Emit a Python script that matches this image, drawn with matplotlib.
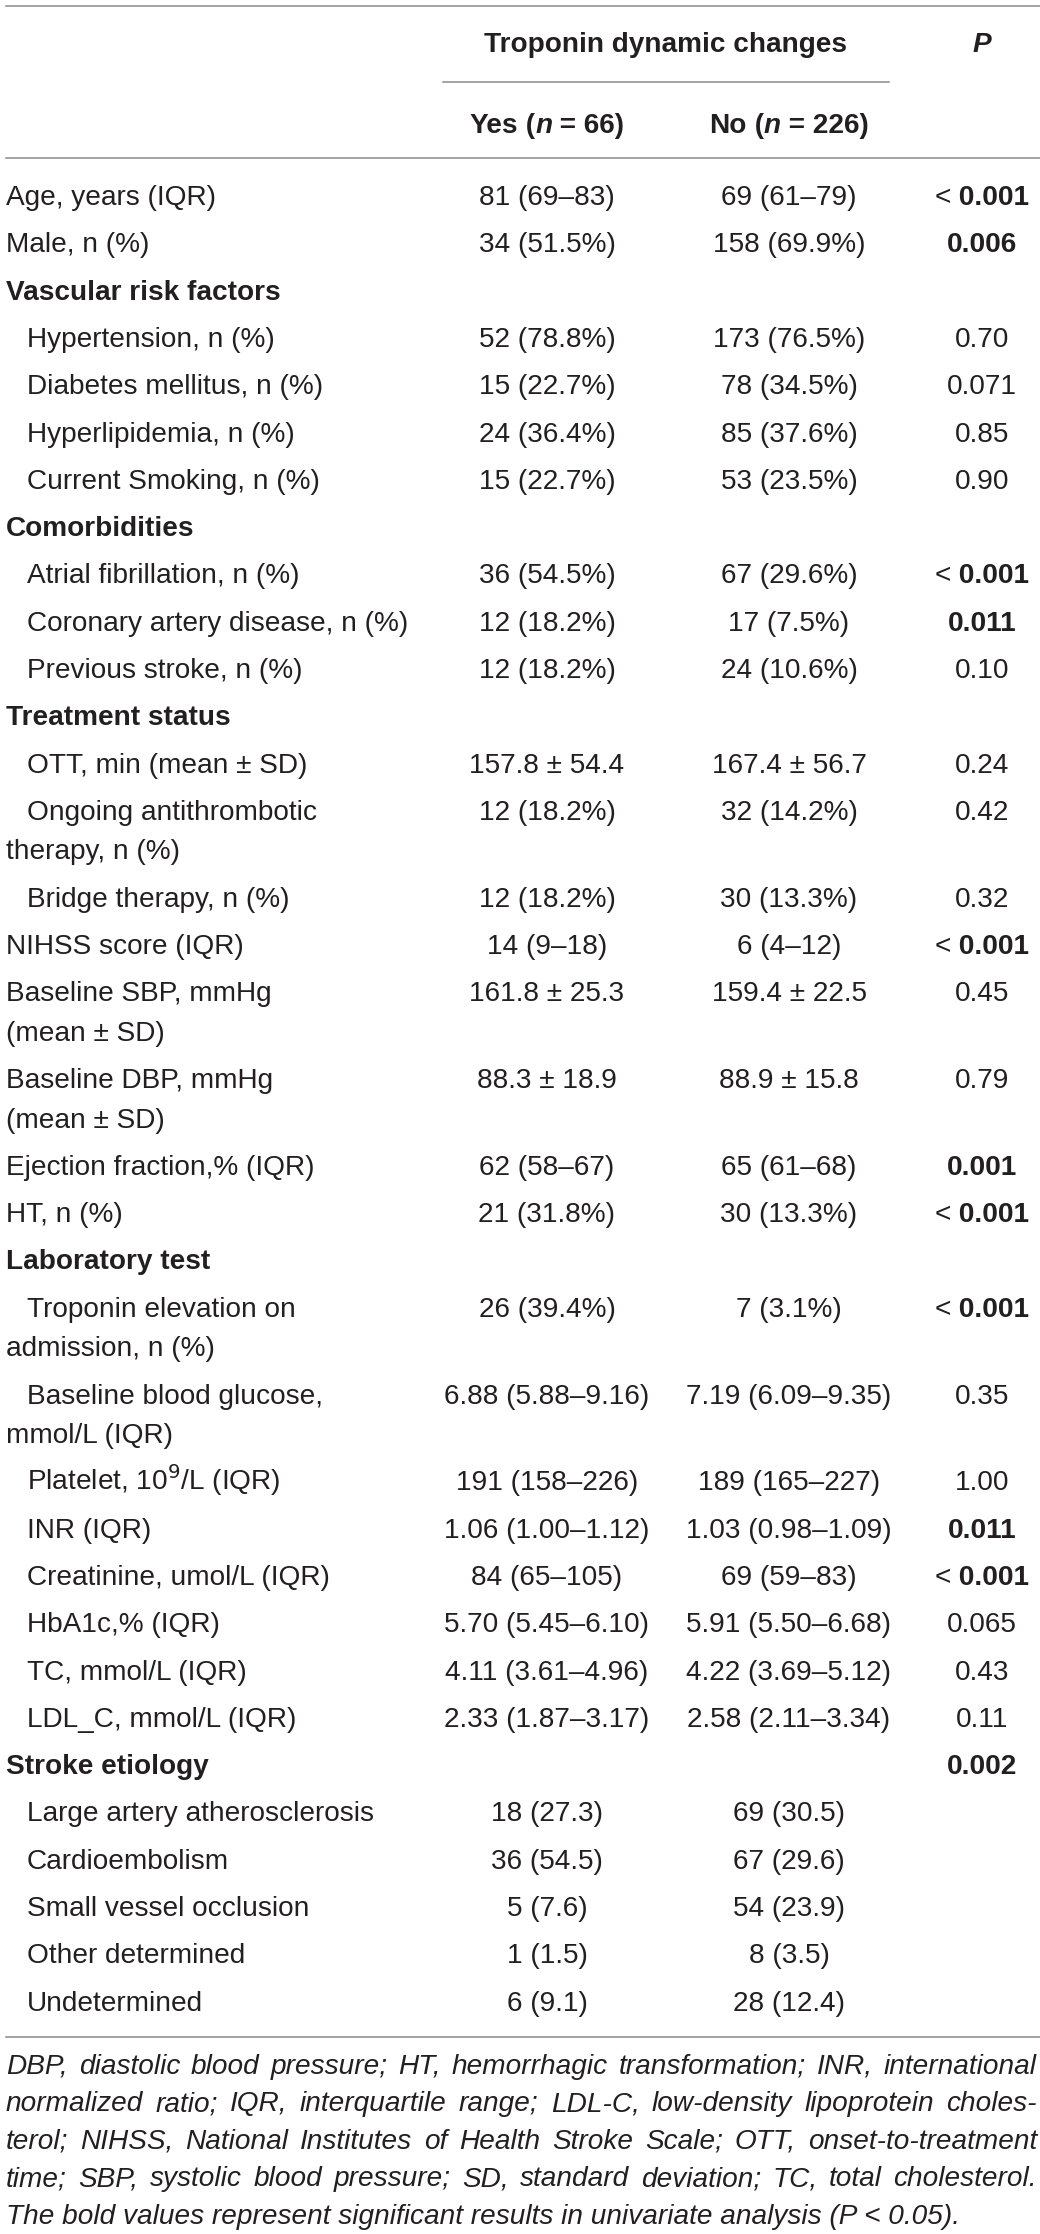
import matplotlib
matplotlib.use('Agg')
import matplotlib.pyplot as plt

plt.rcParams['font.family'] = ['Liberation Sans', 'DejaVu Sans']

INK = '#231f20'
RULE = '#8a8a8a'
FS = 20.2          # ~28 px at 100 dpi

# ---- table content ----
group_title = 'Troponin dynamic changes'
p_title = 'P'
group_names = ['Yes', 'No']
group_sizes = [66, 226]

labels = [
    'Age, years (IQR)', 'Male, n (%)',
    'Vascular risk factors',
    'Hypertension, n (%)', 'Diabetes mellitus, n (%)', 'Hyperlipidemia, n (%)',
    'Current Smoking, n (%)',
    'Comorbidities',
    'Atrial fibrillation, n (%)', 'Coronary artery disease, n (%)',
    'Previous stroke, n (%)',
    'Treatment status',
    'OTT, min (mean \u00b1 SD)', 'Ongoing antithrombotic\ntherapy, n (%)',
    'Bridge therapy, n (%)',
    'NIHSS score (IQR)', 'Baseline SBP, mmHg\n(mean \u00b1 SD)',
    'Baseline DBP, mmHg\n(mean \u00b1 SD)', 'Ejection fraction,% (IQR)', 'HT, n (%)',
    'Laboratory test',
    'Troponin elevation on\nadmission, n (%)', 'Baseline blood glucose,\nmmol/L (IQR)',
    'Platelet, 10$^{\\mathrm{9}}$/L (IQR)', 'INR (IQR)', 'Creatinine, umol/L (IQR)',
    'HbA1c,% (IQR)', 'TC, mmol/L (IQR)', 'LDL_C, mmol/L (IQR)',
    'Stroke etiology',
    'Large artery atherosclerosis', 'Cardioembolism', 'Small vessel occlusion',
    'Other determined', 'Undetermined',
]
kinds = [
    'top', 'top',
    'head', 'sub', 'sub', 'sub', 'sub',
    'head', 'sub', 'sub', 'sub',
    'head', 'sub', 'sub', 'sub',
    'top', 'top', 'top', 'top', 'top',
    'head', 'sub', 'sub', 'sub', 'sub', 'sub', 'sub', 'sub', 'sub',
    'head', 'sub', 'sub', 'sub', 'sub', 'sub',
]
yes_vals = [
    '81 (69\u201383)', '34 (51.5%)',
    '', '52 (78.8%)', '15 (22.7%)', '24 (36.4%)', '15 (22.7%)',
    '', '36 (54.5%)', '12 (18.2%)', '12 (18.2%)',
    '', '157.8 \u00b1 54.4', '12 (18.2%)', '12 (18.2%)',
    '14 (9\u201318)', '161.8 \u00b1 25.3', '88.3 \u00b1 18.9', '62 (58\u201367)', '21 (31.8%)',
    '', '26 (39.4%)', '6.88 (5.88\u20139.16)', '191 (158\u2013226)', '1.06 (1.00\u20131.12)',
    '84 (65\u2013105)', '5.70 (5.45\u20136.10)', '4.11 (3.61\u20134.96)', '2.33 (1.87\u20133.17)',
    '', '18 (27.3)', '36 (54.5)', '5 (7.6)', '1 (1.5)', '6 (9.1)',
]
no_vals = [
    '69 (61\u201379)', '158 (69.9%)',
    '', '173 (76.5%)', '78 (34.5%)', '85 (37.6%)', '53 (23.5%)',
    '', '67 (29.6%)', '17 (7.5%)', '24 (10.6%)',
    '', '167.4 \u00b1 56.7', '32 (14.2%)', '30 (13.3%)',
    '6 (4\u201312)', '159.4 \u00b1 22.5', '88.9 \u00b1 15.8', '65 (61\u201368)', '30 (13.3%)',
    '', '7 (3.1%)', '7.19 (6.09\u20139.35)', '189 (165\u2013227)', '1.03 (0.98\u20131.09)',
    '69 (59\u201383)', '5.91 (5.50\u20136.68)', '4.22 (3.69\u20135.12)', '2.58 (2.11\u20133.34)',
    '', '69 (30.5)', '67 (29.6)', '54 (23.9)', '8 (3.5)', '28 (12.4)',
]
p_vals = [
    '< 0.001', '0.006',
    '', '0.70', '0.071', '0.85', '0.90',
    '', '< 0.001', '0.011', '0.10',
    '', '0.24', '0.42', '0.32',
    '< 0.001', '0.45', '0.79', '0.001', '< 0.001',
    '', '< 0.001', '0.35', '1.00', '0.011', '< 0.001', '0.065', '0.43', '0.11',
    '0.002', '', '', '', '', '',
]
p_bold = [
    True, True,
    False, False, False, False, False,
    False, True, True, False,
    False, False, False, False,
    True, False, False, True, True,
    False, True, False, False, True, True, False, False, False,
    True, False, False, False, False, False,
]
footnote_lines = [
    'DBP, diastolic blood pressure; HT, hemorrhagic transformation; INR, international',
    'normalized ratio; IQR, interquartile range; LDL-C, low-density lipoprotein choles-',
    'terol; NIHSS, National Institutes of Health Stroke Scale; OTT, onset-to-treatment',
    'time; SBP, systolic blood pressure; SD, standard deviation; TC, total cholesterol.',
    'The bold values represent significant results in univariate analysis (P < 0.05).',
]

# ---- layout (pixels) ----
W, H = 1040, 2234
X_LABEL, X_INDENT = 6, 27
X_YES, X_NO, X_P = 547, 789, 982
ROW_STEP, WRAP_STEP = 47.3, 39.5
FIRST_ROW = 195
BASE = 10   # baseline offset below visual centre


def text_width(t, renderer):
    return t.get_window_extent(renderer).width


def put_runs(ax, renderer, x, y, runs, ha='left'):
    """place several differently styled pieces of text on one baseline"""
    objs = []
    for txt, weight, style in runs:
        objs.append(ax.text(0, y, txt, fontsize=FS, fontweight=weight,
                            fontstyle=style, color=INK, va='baseline', ha='left'))
    widths = [text_width(t, renderer) for t in objs]
    pos = x - sum(widths) / 2 if ha == 'center' else x
    for t, w in zip(objs, widths):
        t.set_x(pos)
        pos += w


def main():
    fig = plt.figure(figsize=(W / 100, H / 100), dpi=100)
    ax = fig.add_axes([0, 0, 1, 1])
    ax.set_xlim(0, W)
    ax.set_ylim(H, 0)
    ax.axis('off')
    renderer = fig.canvas.get_renderer()

    # rules
    ax.plot([6, W], [6, 6], color=RULE, lw=1.1)
    ax.plot([443, 889], [82, 82], color=RULE, lw=1.1)
    ax.plot([6, W], [158, 158], color=RULE, lw=1.1)

    # header
    ax.text((443 + 889) / 2, 42 + BASE, group_title, fontsize=FS, fontweight='bold',
            color=INK, ha='center', va='baseline')
    ax.text(X_P, 42 + BASE, p_title, fontsize=FS, fontweight='bold', fontstyle='italic',
            color=INK, ha='center', va='baseline')
    for name, size, xc in zip(group_names, group_sizes, [X_YES, X_NO]):
        put_runs(ax, renderer, xc, 123 + BASE,
                 [(name, 'bold', 'normal'), (' (', 'bold', 'normal'),
                  ('n', 'bold', 'italic'), (' = %d)' % size, 'bold', 'normal')],
                 ha='center')

    # body rows
    y = FIRST_ROW
    for lab, kind, yv, nv, pv, pb in zip(labels, kinds, yes_vals, no_vals, p_vals, p_bold):
        lines = lab.split('\n')
        x0 = X_INDENT if kind == 'sub' else X_LABEL
        weight = 'bold' if kind == 'head' else 'normal'
        ax.text(x0, y + BASE, lines[0], fontsize=FS, fontweight=weight, color=INK,
                ha='left', va='baseline')
        for k, extra in enumerate(lines[1:]):
            ax.text(X_LABEL, y + BASE + WRAP_STEP * (k + 1), extra, fontsize=FS,
                    color=INK, ha='left', va='baseline')
        ax.text(X_YES, y + BASE, yv, fontsize=FS, color=INK, ha='center', va='baseline')
        ax.text(X_NO, y + BASE, nv, fontsize=FS, color=INK, ha='center', va='baseline')
        if pv:
            if pb and pv.startswith('<'):
                put_runs(ax, renderer, X_P, y + BASE,
                         [('<', 'normal', 'normal'), (pv[1:], 'bold', 'normal')],
                         ha='center')
            else:
                ax.text(X_P, y + BASE, pv, fontsize=FS,
                        fontweight='bold' if pb else 'normal',
                        color=INK, ha='center', va='baseline')
        y += ROW_STEP + WRAP_STEP * (len(lines) - 1)

    bottom = y - ROW_STEP + 36
    ax.plot([6, W], [bottom, bottom], color=RULE, lw=1.1)

    # footnote, justified except the last line
    fy = bottom + 27
    left, right = 6, 1037
    for i, line in enumerate(footnote_lines):
        if i == len(footnote_lines) - 1:
            ax.text(left, fy + BASE, line, fontsize=FS, fontstyle='italic', color=INK,
                    ha='left', va='baseline')
        else:
            words = line.split(' ')
            objs = [ax.text(0, fy + BASE, w, fontsize=FS, fontstyle='italic', color=INK,
                            ha='left', va='baseline') for w in words]
            widths = [text_width(t, renderer) for t in objs]
            gap = (right - left - sum(widths)) / (len(words) - 1)
            pos = left
            for t, w in zip(objs, widths):
                t.set_x(pos)
                pos += w + gap
        fy += 37.5

    fig.savefig('out.png', dpi=100)


if __name__ == '__main__':
    main()
